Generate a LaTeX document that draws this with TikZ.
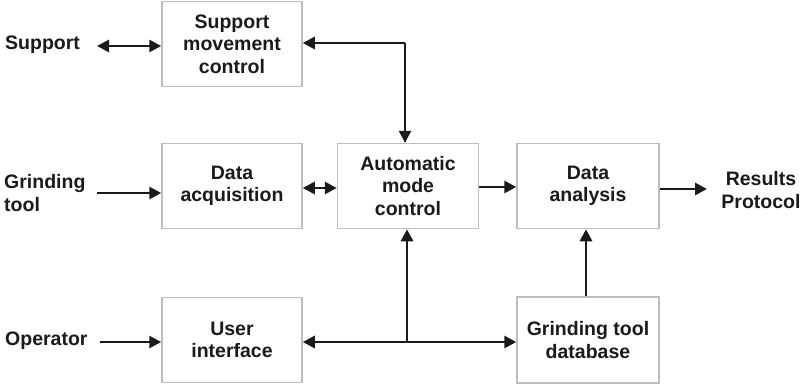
\documentclass[tikz,border=0pt]{standalone}
\usepackage{fontspec}
\setmainfont{Liberation Sans}
\usetikzlibrary{arrows.meta}
\definecolor{boxline}{HTML}{BDBDBD}
\definecolor{ink}{HTML}{1A1A1A}
\begin{document}
\begin{tikzpicture}[x=1pt,y=-1pt,
  blk/.style={draw=boxline,line width=1.5pt,fill=white,minimum width=140pt,minimum height=85pt,
    align=center,inner sep=0pt,font=\bfseries\fontsize{19.5}{22.5}\selectfont,text=ink},
  lbl/.style={align=center,inner sep=0pt,font=\bfseries\fontsize{19.5}{22.5}\selectfont,text=ink},
  arr/.style={draw=ink,line width=2.8pt,-{Triangle[length=12pt,width=12pt]}},
  dbl/.style={draw=ink,line width=2.8pt,{Triangle[length=12pt,width=12pt]}-{Triangle[length=12pt,width=12pt]}},
  ln/.style={draw=ink,line width=2.8pt}]
\useasboundingbox (0,0) rectangle (802,385);
% boxes
\node[blk] (smc) at (232,44) {Support\\movement\\control};
\node[blk] (da)  at (232,186) {Data\\acquisition};
\node[blk,minimum width=141pt] (amc) at (408,186) {Automatic\\mode\\control};
\node[blk,minimum width=142pt] (dan) at (588,186) {Data\\analysis};
\node[blk] (ui)  at (232,340) {User\\interface};
\node[blk,minimum width=142pt,minimum height=86pt] (db) at (588,340) {Grinding tool\\database};
% outer labels
\node[lbl,anchor=west] (sup) at (5,45) {Support};
\node[lbl,anchor=west,align=left] (gt) at (4,193) {Grinding\\tool};
\node[lbl,anchor=west] (op) at (5,341) {Operator};
\node[lbl] (res) at (761,190) {Results\\Protocol};
% connector end points
\coordinate (sa) at (97,46);
\coordinate (ga) at (97,193);
\coordinate (oa) at (100,342);
\coordinate (ra) at (707,189);
\coordinate (c1) at (405,43);
\coordinate (j1) at (407,342);
% connectors
\draw[ln] (c1 |- amc.north) ++(0,-1) -- (c1);
\draw[dbl] (sa) -- (smc.west |- sa);
\draw[arr] (ga) -- (da.west |- ga);
\draw[arr] (oa) -- (ui.west |- oa);
\draw[arr] (c1) -- (smc.east |- c1);
\draw[arr] (c1) -- (c1 |- amc.north);
\draw[dbl] (da.east |- 0,188) -- (amc.west |- 0,188);
\draw[arr] (amc.east |- 0,187) -- (dan.west |- 0,187);
\draw[arr] (dan.east |- ra) -- (ra);
\draw[dbl] (ui.east |- j1) -- (db.west |- j1);
\draw[arr] (j1) -- (j1 |- amc.south);
\draw[arr] (db.north -| 586,0) -- (dan.south -| 586,0);
\end{tikzpicture}
\end{document}
